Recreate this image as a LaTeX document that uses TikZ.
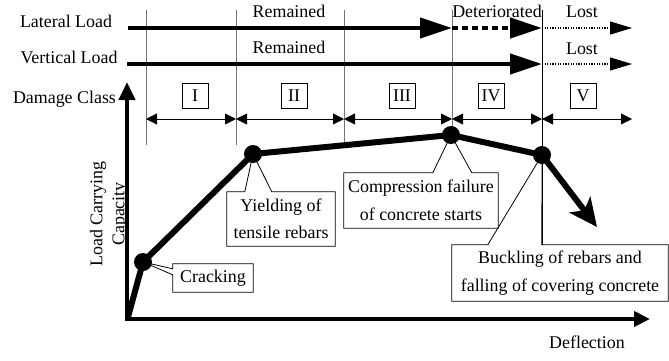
\documentclass[tikz,border=0pt]{standalone}
\usepackage{fontspec}
\setmainfont{Liberation Serif}
\usetikzlibrary{arrows.meta,calc}
\begin{document}
\begin{tikzpicture}[x=1pt,y=-1pt,
  every node/.style={font=\fontsize{17.9pt}{27.5pt}\selectfont, inner sep=0pt},
  lbl/.style={anchor=base},
  gridline/.style={draw=black!55, line width=0.9pt},
  heavy/.style={line width=4.5pt, -{Triangle[length=32pt,width=20pt]}},
  heavydash/.style={heavy, dash pattern=on 6pt off 4pt},
  lostarrow/.style={line width=1.1pt, dash pattern=on 1.2pt off 1.4pt, -{Triangle[length=22pt,width=13pt]}},
  spanarrow/.style={line width=0.9pt, {Triangle[length=11pt,width=11pt]}-{Triangle[length=11pt,width=11pt]}},
  cls/.style={draw, line width=0.8pt, minimum width=26pt, minimum height=25pt},
  txtbox/.style={align=center},
  outline/.style={draw, line width=0.8pt, line join=miter},
  curve/.style={line width=6pt, line join=round},
  dotnode/.style={circle, fill=black, minimum size=18pt},
  axis/.style={line width=4pt}
]
\useasboundingbox (0,0) rectangle (669,360);

% grid lines
\coordinate (g1t) at (146,10);  \coordinate (g1b) at (146,145);
\coordinate (g2t) at (236,10);  \coordinate (g2b) at (236,145);
\coordinate (g3t) at (344,10);  \coordinate (g3b) at (344,143);
\coordinate (g4t) at (452,10);  \coordinate (g4b) at (452,135);
\coordinate (g5t) at (542,10);  \coordinate (g5b) at (542,245);
\draw[gridline] (g1t) -- (g1b);
\draw[gridline] (g2t) -- (g2b);
\draw[gridline] (g3t) -- (g3b);
\draw[gridline] (g4t) -- (g4b);
\draw[line width=0.9pt] (g5t) -- (g5b);

% row labels
\node[lbl] (latl) at (66,27) {Lateral Load};
\node[lbl] (verl) at (69,63) {Vertical Load};
\node[lbl] (dmgl) at (64.5,103) {Damage Class};

% lateral load
\coordinate (la0) at (128,28); \coordinate (la1) at (452,28);
\coordinate (la2) at (542,28); \coordinate (la3) at (632,28);
\draw[heavy] (la0) -- (la1);
\draw[heavydash] (la1) -- (la2);
\draw[lostarrow] (la2) -- (la3);
\node[lbl] (rem1) at (289,17) {Remained};
\node[lbl] (det) at (497,17) {Deteriorated};
\node[lbl] (lost1) at (582,17) {Lost};

% vertical load
\coordinate (va0) at (127,64); \coordinate (va2) at (542,64);
\coordinate (va3) at (632,64);
\draw[heavy] (va0) -- (va2);
\draw[lostarrow] (va2) -- (va3);
\node[lbl] (rem2) at (289,53) {Remained};
\node[lbl] (lost2) at (582,54) {Lost};

% damage classes
\coordinate (d1) at (146,119); \coordinate (d2) at (236,119);
\coordinate (d3) at (344,119); \coordinate (d4) at (452,119);
\coordinate (d5) at (542,119); \coordinate (d6) at (632,119);
\draw[spanarrow] (d1) -- (d2);
\draw[spanarrow] (d2) -- (d3);
\draw[spanarrow] (d3) -- (d4);
\draw[spanarrow] (d4) -- (d5);
\draw[spanarrow] (d5) -- (d6);
\node[cls] (c1) at (195,95.5) {I};
\node[cls] (c2) at (294,95.5) {II};
\node[cls] (c3) at (402,95.5) {III};
\node[cls] (c4) at (491,95.5) {IV};
\node[cls] (c5) at (583,95.5) {V};

% axes
\coordinate (ybot) at (127,321); \coordinate (ytip) at (127,82);
\coordinate (xl) at (125,319); \coordinate (xtip) at (650,319);
\draw[axis,-{Triangle[length=18pt,width=16pt]}] (ybot) -- (ytip);
\draw[axis,-{Triangle[length=16pt,width=15pt]}] (xl) -- (xtip);
\node[lbl] (defl) at (587,348) {Deflection};
\node[rotate=90, align=center, font=\fontsize{17.9pt}{22pt}\selectfont] (ylab) at (109,214) {Load Carrying\\Capacity};

% curve points
\coordinate (p0) at (128,317);
\coordinate (pc) at (143,262);
\coordinate (py) at (253,154);
\coordinate (pp) at (451,135);
\coordinate (pb) at (542,155);
\coordinate (pe) at (597,227);

% callout boxes
\node[txtbox, minimum width=80pt, minimum height=28pt] (crk) at (213,278) {Cracking};
\draw[outline] (crk.north west) -- (crk.north east) -- (crk.south east) -- (crk.south west)
  -- ($(crk.north west)+(0,11)$) -- (pc) -- ($(crk.north west)+(0,5)$) -- cycle;

\node[txtbox, minimum width=108pt, minimum height=54pt] (yld) at (281,219) {Yielding of\\tensile rebars};
\draw[outline] (yld.north west) -- ($(yld.north west)+(18,0)$) -- (py) -- ($(yld.north west)+(45,0)$)
  -- (yld.north east) -- (yld.south east) -- (yld.south west) -- cycle;

\node[txtbox, minimum width=154pt, minimum height=55pt] (cmp) at (421,200.5) {Compression failure\\of concrete starts};
\draw[outline] (cmp.north west) -- ($(cmp.north west)+(89,0)$) -- (pp) -- ($(cmp.north west)+(128,0)$)
  -- (cmp.north east) -- (cmp.south east) -- (cmp.south west) -- cycle;

\node[txtbox, minimum width=216pt, minimum height=56pt] (bck) at (560,273) {Buckling of rebars and\\falling of covering concrete};
\draw[outline] (bck.north west) -- ($(bck.north west)+(36,0)$) -- (pb) -- ($(bck.north west)+(90,0)$)
  -- (bck.north east) -- (bck.south east) -- (bck.south west) -- cycle;

% curve
\draw[curve] (p0) -- (pc) -- (py) -- (pp) -- (pb);
\draw[curve, -{Stealth[length=28pt,width=26pt,inset=7pt]}] (pb) -- (pe);
\node[dotnode] (dc) at (pc) {};
\node[dotnode] (dy) at (py) {};
\node[dotnode] (dp) at (pp) {};
\node[dotnode] (db) at (pb) {};
\end{tikzpicture}
\end{document}
